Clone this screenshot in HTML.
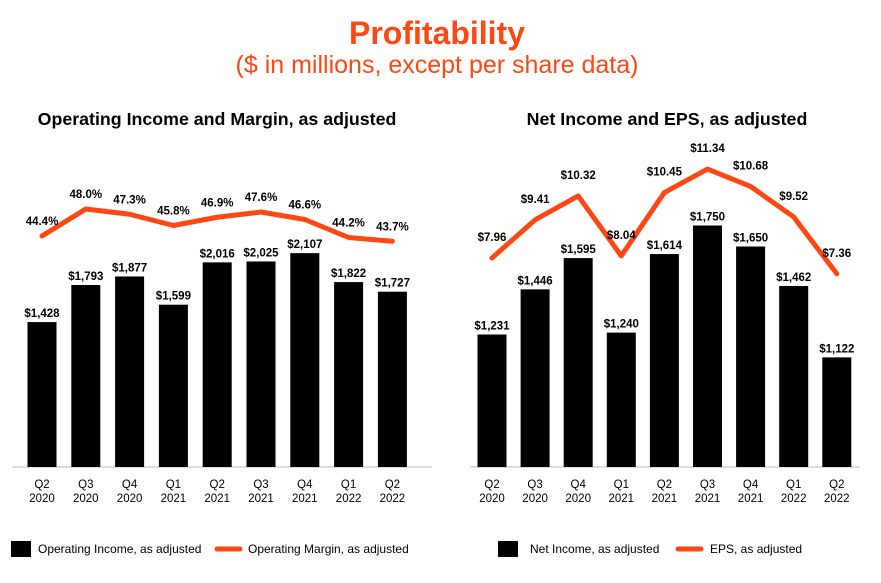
<!DOCTYPE html>
<html><head><meta charset="utf-8"><style>
body{margin:0;background:#fff;font-family:"Liberation Sans",sans-serif}
svg text{font-family:"Liberation Sans",sans-serif}
</style></head><body>
<svg id="s" width="881" height="578" viewBox="0 0 881 578">
<text x="437" y="44" text-anchor="middle" font-size="32" font-weight="bold" fill="#ff4713">Profitability</text>
<text x="437" y="73" text-anchor="middle" font-size="25" fill="#ff4713">($ in millions, except per share data)</text>
<text x="217" y="125" text-anchor="middle" font-size="17.8" font-weight="bold" fill="#000">Operating Income and Margin, as adjusted</text>
<text x="667" y="125" text-anchor="middle" font-size="17.8" font-weight="bold" fill="#000">Net Income and EPS, as adjusted</text>
<line x1="12" y1="467" x2="432" y2="467" stroke="#bbb"/>
<line x1="470" y1="467" x2="860" y2="467" stroke="#bbb"/>
<g id="L"></g><g id="R"></g>
<rect x="11" y="541" width="20" height="16" fill="#000"/>
<text x="38" y="553" font-size="12">Operating Income, as adjusted</text>
<line x1="217" y1="549" x2="240" y2="549" stroke="#ff4713" stroke-width="5" stroke-linecap="round"/>
<text x="248" y="553" font-size="12">Operating Margin, as adjusted</text>
<rect x="498" y="541" width="20" height="16" fill="#000"/>
<text x="530" y="553" font-size="12">Net Income, as adjusted</text>
<line x1="678" y1="549" x2="701" y2="549" stroke="#ff4713" stroke-width="5" stroke-linecap="round"/>
<text x="710" y="553" font-size="12">EPS, as adjusted</text>
</svg>
<script>
const quarters=["Q2","Q3","Q4","Q1","Q2","Q3","Q4","Q1","Q2"];
const years=["2020","2020","2020","2021","2021","2021","2021","2022","2022"];
const opIncome=[1428,1793,1877,1599,2016,2025,2107,1822,1727];
const opMargin=[44.4,48.0,47.3,45.8,46.9,47.6,46.6,44.2,43.7];
const netIncome=[1231,1446,1595,1240,1614,1750,1650,1462,1122];
const eps=[7.96,9.41,10.32,8.04,10.45,11.34,10.68,9.52,7.36];
const NS="http://www.w3.org/2000/svg";
function mk(p,t,a,txt){const e=document.createElementNS(NS,t);for(const k in a)e.setAttribute(k,a[k]);if(txt!=null)e.textContent=txt;p.appendChild(e);return e;}
const base=467;
function draw(g,x0,step,bars,barY,line,lineY,barFmt,lineFmt,pre,off){
  const xs=i=>x0+i*step;
  bars.forEach((v,i)=>{const y=barY(v);
    const r=mk(g,'rect',{x:xs(i)-14.5,y:y,width:29,height:base-y,fill:'#000'});
    
    
    const t=mk(g,'text',{x:xs(i),y:y-5,'text-anchor':'middle','font-size':11.5,'font-weight':'bold'},barFmt(v));
    
    
    const q=mk(g,'text',{x:xs(i),y:488,'text-anchor':'middle','font-size':11.5},quarters[i]);
    
    
    const yy=mk(g,'text',{x:xs(i),y:502,'text-anchor':'middle','font-size':11.5},years[i]);
    
    
  });
  const pts=line.map((v,i)=>xs(i)+','+lineY(v)).join(' ');
  const pl=mk(g,'polyline',{points:pts,fill:'none',stroke:'#ff4713','stroke-width':5,'stroke-linejoin':'round','stroke-linecap':'round'});
  
  
  line.forEach((v,i)=>{
    const t=mk(g,'text',{x:xs(i),y:lineY(v)-off,'text-anchor':'middle','font-size':11.5,'font-weight':'bold'},lineFmt(v));
    
    
  });
}
const fmt=v=>'$'+v.toLocaleString('en-US');
draw(document.getElementById('L'),42,43.8,opIncome,v=>base-v*0.1015,opMargin,v=>236-(v-44.4)*7.5,fmt,v=>v.toFixed(1)+'%','left',11);
draw(document.getElementById('R'),492,43.1,netIncome,v=>base-(v-600)*0.21,eps,v=>258-(v-7.96)*26.3,fmt,v=>'$'+v.toFixed(2),'right',17);
</script>
</body></html>
